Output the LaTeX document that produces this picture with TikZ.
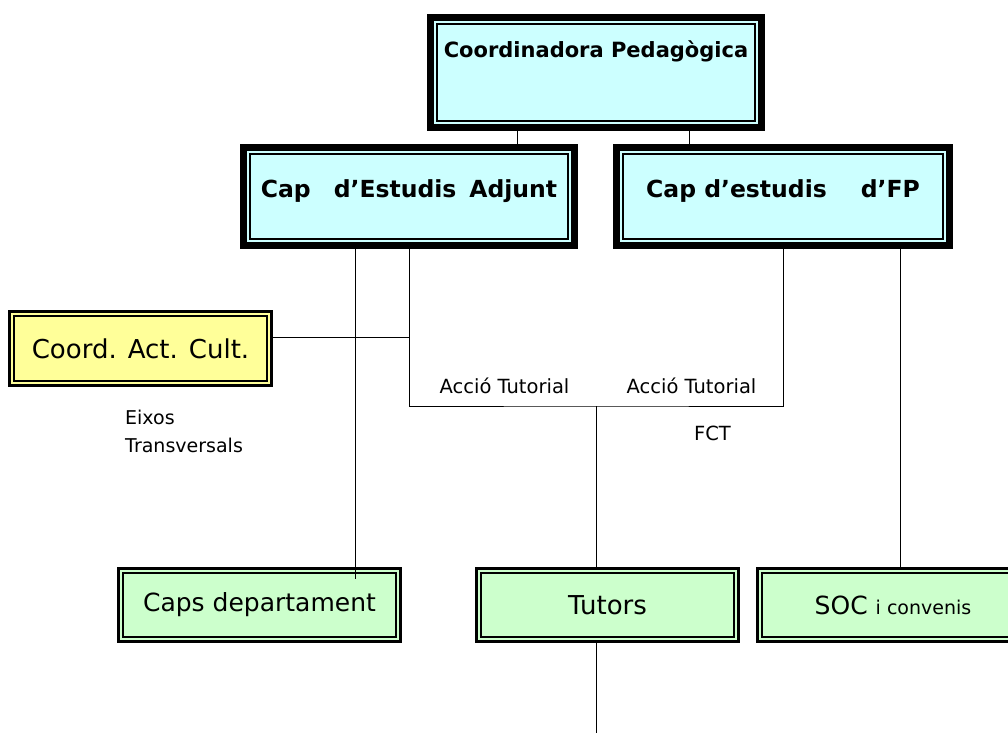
\documentclass[tikz,border=0pt]{standalone}
\usepackage{fontspec}
\setmainfont{DejaVu Sans}
\definecolor{cyanfill}{HTML}{CCFFFF}
\definecolor{yelfill}{HTML}{FFFF99}
\definecolor{grnfill}{HTML}{CCFFCC}
\tikzset{
  bigbox/.style={draw=black, fill=cyanfill, line width=7pt, inner sep=0pt,
    font=\fontsize{23.5}{27}\selectfont\bfseries,
    path picture={\draw[line width=1.5pt]
      ([xshift=6.5pt,yshift=-6.5pt]path picture bounding box.north west) rectangle
      ([xshift=-6.5pt,yshift=6.5pt]path picture bounding box.south east);}},
  smallbox/.style={draw=black, line width=3pt, inner sep=0pt,
    font=\fontsize{26}{30}\selectfont,
    path picture={\draw[line width=2pt]
      ([xshift=4.5pt,yshift=-4.5pt]path picture bounding box.north west) rectangle
      ([xshift=-4.5pt,yshift=4.5pt]path picture bounding box.south east);}},
  conn/.style={draw=black, line width=1pt},
  lbl/.style={inner sep=0pt, font=\fontsize{19.5}{23}\selectfont}
}
\begin{document}
\begin{tikzpicture}[x=1pt,y=-1pt]
\clip (0,0) rectangle (1008,733);
% boxes
\node[bigbox, anchor=base, minimum width=331pt, text height=40.5pt, text depth=69.5pt,
      font=\fontsize{21}{25}\selectfont\bfseries] (cp) at (596,58) {Coordinadora Pedagògica};
\node[bigbox, anchor=base, minimum width=331pt, text height=49.5pt, text depth=48.5pt]
      (cea) at (409,197) {Cap\hspace{23pt}d’Estudis\hspace{13pt}Adjunt};
\node[bigbox, anchor=base, minimum width=333pt, text height=49.5pt, text depth=48.5pt]
      (cfp) at (783,197) {Cap d’estudis\hspace{34pt}d’FP};
\node[smallbox, fill=yelfill, minimum width=262pt, minimum height=74pt]
      (cac) at (140.5,348.5) {Coord. Act. Cult.};
\node[smallbox, fill=grnfill, minimum width=282pt, minimum height=73pt,
      font=\fontsize{25}{30}\selectfont] (cd) at (259.5,605) {Caps departament};
\node[smallbox, fill=grnfill, minimum width=262pt, minimum height=73pt]
      (tut) at (607.5,605) {Tutors};
\node[smallbox, fill=grnfill, minimum width=271pt, minimum height=73pt]
      (soc) at (893,605) {\fontsize{25}{29}\selectfont SOC {\fontsize{19}{23}\selectfont i convenis}};
% labels
\node[lbl, anchor=base] (at1) at (504.5,393) {Acció Tutorial};
\node[lbl, anchor=base] (at2) at (691.5,393) {Acció Tutorial};
\node[lbl, anchor=base] (fct) at (712.5,440) {FCT};
\node[lbl, anchor=north west, align=left, font=\fontsize{19}{28}\selectfont]
      (eix) at (125,410) {Eixos\\Transversals};
% helper coordinates
\coordinate (xa) at (517,0);
\coordinate (xb) at (689,0);
\coordinate (xc) at (355,0);
\coordinate (xd) at (900,0);
\coordinate (hy) at (409,337);
\coordinate (bus) at (596,406);
\coordinate (cdin) at (355,579);
\coordinate (tail) at (596,733);
% connectors
\draw[conn] (xa |- cp.south) -- (xa |- cea.north);
\draw[conn] (xb |- cp.south) -- (xb |- cfp.north);
\draw[conn] (xc |- cea.south) -- (cdin);
\draw[conn] (cea.south) |- (bus) -| (cfp.south);
\draw[conn] (cac.east |- hy) -- (hy);
\draw[conn] (bus) -- (bus |- tut.north);
\draw[conn] (bus |- tut.south) -- (tail);
\draw[conn] (xd |- cfp.south) -- (xd |- soc.north);
\end{tikzpicture}
\end{document}
